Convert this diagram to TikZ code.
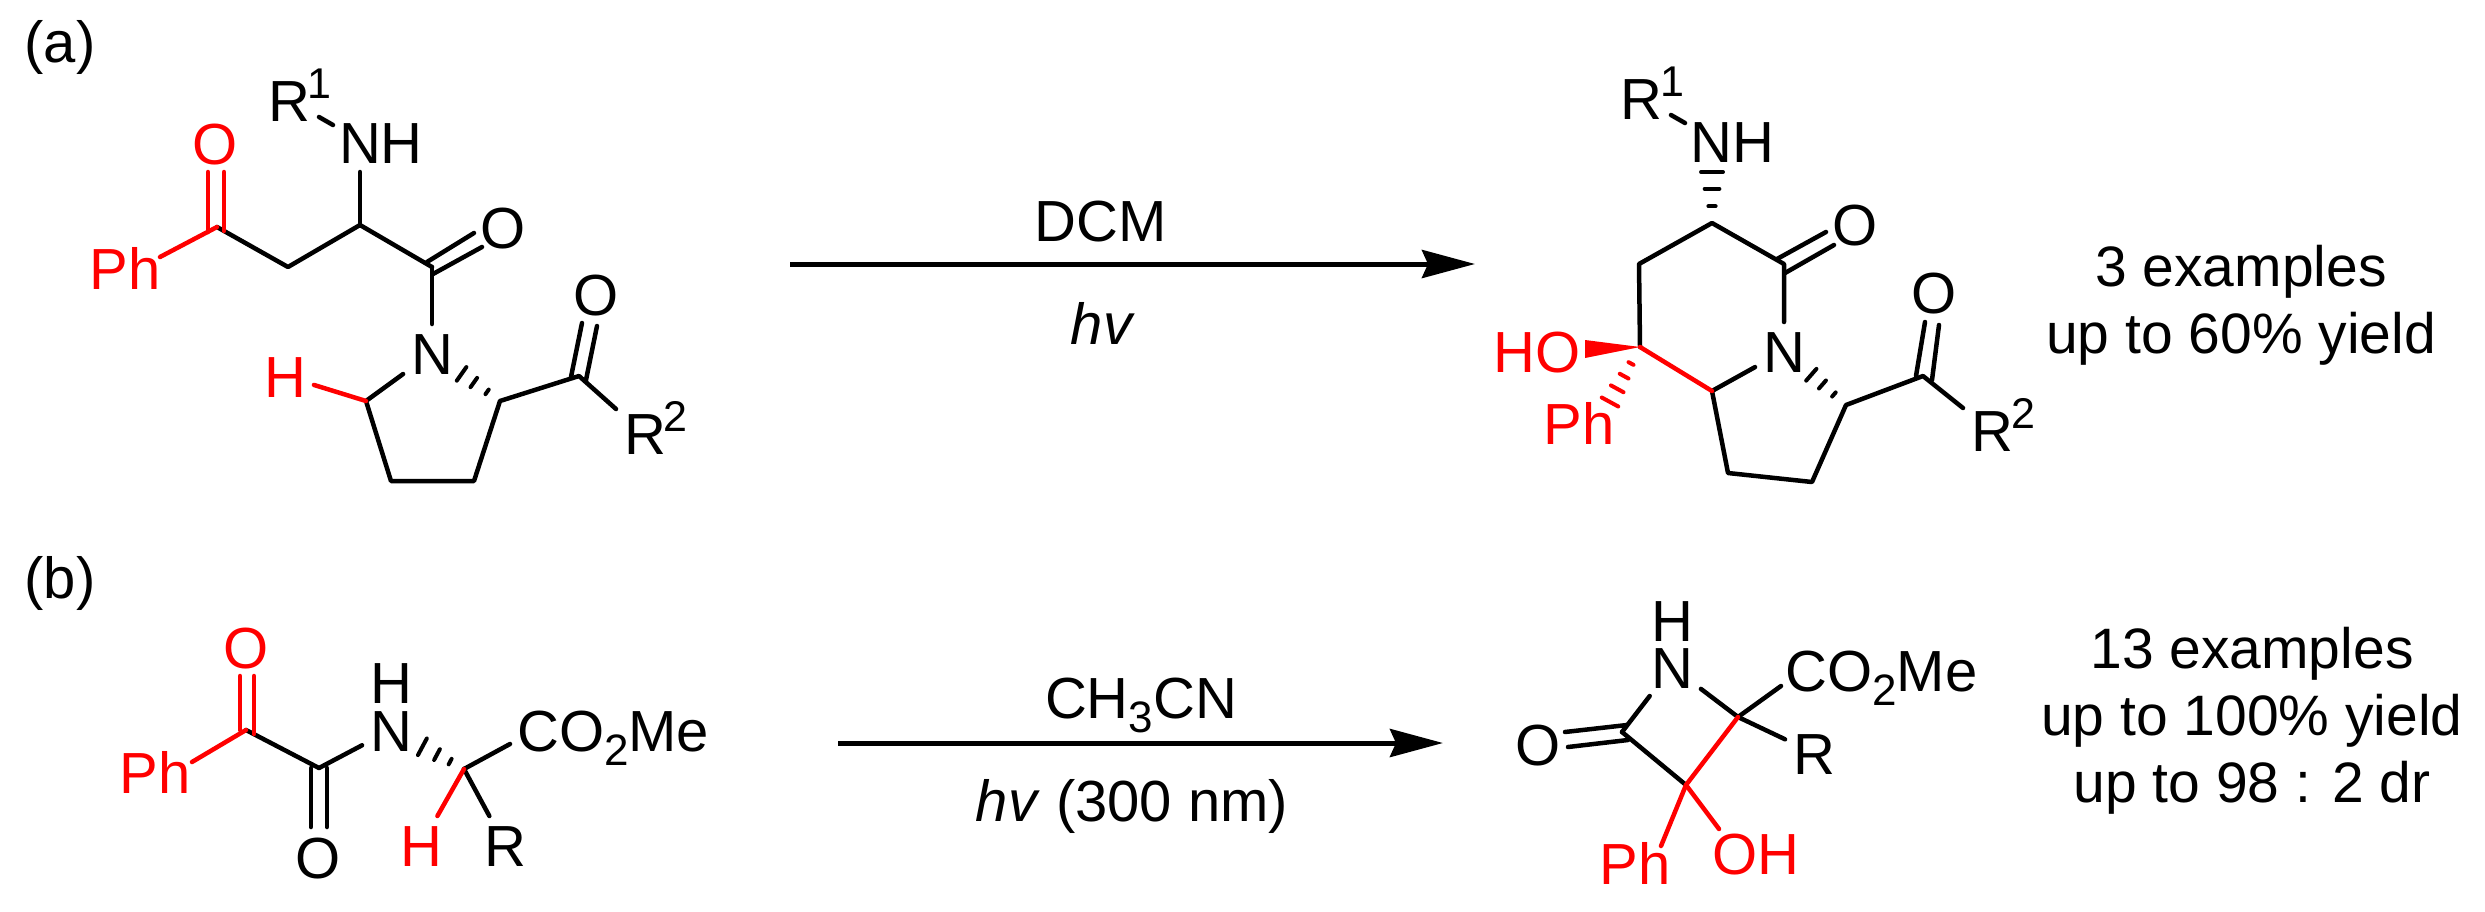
\documentclass[tikz,border=0pt]{standalone}
\usepackage{fontspec}
\setmainfont{Liberation Sans}
\usetikzlibrary{arrows.meta}
\usetikzlibrary{calc}
\tikzstyle{Atom}=[inner sep=0pt, outer sep=8pt, anchor=base, text height=42pt, text depth=0pt, font=\fontsize{58}{60}\selectfont]
\tikzstyle{RedAtom}=[Atom, text=red]
\tikzstyle{Caption}=[inner sep=0pt, anchor=base, font=\fontsize{58}{60}\selectfont]
\tikzstyle{Info}=[Caption, align=center, font=\fontsize{57}{67}\selectfont]
\tikzstyle{Bond}=[line width=4.5pt, line cap=round, line join=round]
\tikzstyle{RedBond}=[Bond, red]
\tikzstyle{HashDash}=[line width=4pt, line cap=round]
\tikzstyle{RedHashDash}=[HashDash, red]
\tikzstyle{ArrowEdge}=[line width=5pt, -{Stealth[length=53pt, width=28pt, inset=6pt]}]
\newcommand{\SupNum}[1]{\kern-2pt\raisebox{23pt}{\fontsize{43}{44}\selectfont #1}}
\newcommand{\SubNum}[1]{\raisebox{-14pt}{\fontsize{44}{44}\selectfont #1}}
\newcommand{\HashEdge}[5]{\foreach \f in {#4}{\draw[#1] ($(#2)!\f!(#3) + (#2)!\f*#5!90:(#3) - (#2)$) -- ($(#2)!\f!(#3) - (#2)!\f*#5!90:(#3) + (#2)$);}}

\begin{document}
\begin{tikzpicture}[x=1pt, y=-1pt]
\useasboundingbox (0,0) rectangle (2485,911);

\node[Caption](TagA) at (60,62) {(a)};
\node[Caption](TagB) at (60,598) {(b)};

\coordinate (aC1) at (217,227);
\coordinate (aC2) at (288,267);
\coordinate (aC3) at (360,225);
\coordinate (aC4) at (432,267);
\coordinate (aC5) at (366,401);
\coordinate (aC6) at (391,481);
\coordinate (aC7) at (474,481);
\coordinate (aC8) at (500,401);
\coordinate (aC9) at (579,376);
\coordinate (aPhEnd) at (160,257);
\coordinate (aNHEnd) at (360,172);
\coordinate (aRaEnd) at (319,117);
\coordinate (aRbEnd) at (333,125);
\coordinate (aRcEnd) at (616,409);
\coordinate (aOaL) at (208,232);
\coordinate (aOaM) at (208,172);
\coordinate (aObL) at (224,231);
\coordinate (aObM) at (224,172);
\coordinate (aOcL) at (427,262);
\coordinate (aOcM) at (474,233);
\coordinate (aOdL) at (433,274);
\coordinate (aOdM) at (482,247);
\coordinate (aOeL) at (571,377);
\coordinate (aOeM) at (582,323);
\coordinate (aOfL) at (586,380);
\coordinate (aOfM) at (597,326);
\node[RedAtom](aPh) at (125,289) {Ph};
\node[RedAtom](aO1) at (215,164) {O};
\node[Atom](aNH) at (381,163) {NH};
\node[Atom](aR1) at (300,121) {R\SupNum{1}};
\node[Atom](aO2) at (503,248) {O};
\node[Atom](aN) at (432,374) {N};
\node[Atom](aO3) at (596,315) {O};
\node[Atom](aR2) at (656,454) {R\SupNum{2}};
\node[RedAtom](aH) at (285,397) {H};

\draw[Bond](aC1) -- (aC2) -- (aC3) -- (aC4);
\draw[Bond](aC3) -- (aNHEnd);
\draw[Bond](aRaEnd) -- (aRbEnd);
\draw[Bond](aC4) -- (aN);
\draw[Bond](aN) -- (aC5) -- (aC6) -- (aC7) -- (aC8) -- (aC9) -- (aRcEnd);
\draw[Bond](aOcL) -- (aOcM);
\draw[Bond](aOdL) -- (aOdM);
\draw[Bond](aOeL) -- (aOeM);
\draw[Bond](aOfL) -- (aOfM);
\HashEdge{HashDash}{aC8}{aN}{.19,.385,.565}{.177}
\draw[RedBond](aPhEnd) -- (aC1);
\draw[RedBond](aOaL) -- (aOaM);
\draw[RedBond](aObL) -- (aObM);
\draw[RedBond](aH) -- (aC5);

\coordinate (ArrowA) at (790,264);
\coordinate (ArrowAEnd) at (1475,264);
\draw[ArrowEdge](ArrowA) -- (ArrowAEnd);
\node[Caption](DCM) at (1101,241) {DCM};
\node[Caption](LightA) at (1103,344) {\textit{hv}};

\coordinate (pC1) at (1712,223);
\coordinate (pC2) at (1639,264);
\coordinate (pC3) at (1640,347);
\coordinate (pC4) at (1712,391);
\coordinate (pC5) at (1728,473);
\coordinate (pC6) at (1812,482);
\coordinate (pC7) at (1846,405);
\coordinate (pC8) at (1923,376);
\coordinate (pC9) at (1784,264);
\coordinate (pNHEnd) at (1712,172);
\coordinate (pPhEnd) at (1610,402);
\coordinate (pRaEnd) at (1671,115);
\coordinate (pRbEnd) at (1685,123);
\coordinate (pRcEnd) at (1963,408);
\coordinate (pWedgeA) at (1585,340);
\coordinate (pWedgeB) at (1585,358);
\coordinate (pOaL) at (1777,259);
\coordinate (pOaM) at (1826,232);
\coordinate (pObL) at (1785,273);
\coordinate (pObM) at (1834,245);
\coordinate (pOcL) at (1916,376);
\coordinate (pOcM) at (1925,322);
\coordinate (pOdL) at (1932,380);
\coordinate (pOdM) at (1939,325);
\node[Atom](pNH) at (1732,162) {NH};
\node[Atom](pR1) at (1652,119) {R\SupNum{1}};
\node[Atom](pO1) at (1855,245) {O};
\node[Atom](pN) at (1784,372) {N};
\node[Atom](pO2) at (1934,313) {O};
\node[Atom](pR2) at (2003,451) {R\SupNum{2}};
\node[RedAtom](pHO) at (1537,372) {HO};
\node[RedAtom](pPh) at (1579,444) {Ph};

\draw[Bond](pC3) -- (pC2) -- (pC1) -- (pC9) -- (pN);
\draw[Bond](pRaEnd) -- (pRbEnd);
\draw[Bond](pC4) -- (pN);
\draw[Bond](pC4) -- (pC5) -- (pC6) -- (pC7) -- (pC8) -- (pRcEnd);
\draw[Bond](pOaL) -- (pOaM);
\draw[Bond](pObL) -- (pObM);
\draw[Bond](pOcL) -- (pOcM);
\draw[Bond](pOdL) -- (pOdM);
\HashEdge{HashDash}{pC1}{pNHEnd}{.33,.67,1}{.215}
\HashEdge{HashDash}{pC7}{pN}{.195,.38,.56}{.17}
\draw[RedBond](pC3) -- (pC4);
\fill[red](pC3) -- (pWedgeA) -- (pWedgeB) -- cycle;
\HashEdge{RedHashDash}{pC3}{pPhEnd}{.3,.53,.76,1}{.15}

\node[Info](InfoA) at (2241,353) {3 examples\\up to 60\% yield};

\coordinate (bC1) at (246,730);
\coordinate (bC2) at (319,768);
\coordinate (bC3) at (464,769);
\coordinate (bPhEnd) at (192,762);
\coordinate (bCOEnd) at (510,744);
\coordinate (bOaL) at (240,730);
\coordinate (bOaM) at (240,676);
\coordinate (bObL) at (254,734);
\coordinate (bObM) at (254,676);
\coordinate (bOcL) at (311,768);
\coordinate (bOcM) at (311,827);
\coordinate (bOdL) at (327,768);
\coordinate (bOdM) at (327,827);
\node[Caption](bH0) at (391,703) {H};
\node[RedAtom](bPh) at (155,793) {Ph};
\node[RedAtom](bO1) at (246,668) {O};
\node[Atom](bO2) at (318,878) {O};
\node[Atom](bN) at (391,751) {N};
\node[Caption, anchor=base west](bCO) at (517,751) {CO\SubNum{2}Me};
\node[RedAtom](bH) at (421,866) {H};
\node[Atom](bR) at (505,866) {R};

\draw[Bond](bC1) -- (bC2) -- (bN);
\draw[Bond](bC3) -- (bCOEnd);
\draw[Bond](bC3) -- (bR);
\draw[Bond](bOcL) -- (bOcM);
\draw[Bond](bOdL) -- (bOdM);
\HashEdge{HashDash}{bC3}{bN}{.19,.37,.57}{.2}
\draw[RedBond](bPhEnd) -- (bC1);
\draw[RedBond](bOaL) -- (bOaM);
\draw[RedBond](bObL) -- (bObM);
\draw[RedBond](bC3) -- (bH);

\coordinate (ArrowB) at (838,743);
\coordinate (ArrowBEnd) at (1443,743);
\draw[ArrowEdge](ArrowB) -- (ArrowBEnd);
\node[Caption](Solvent) at (1141,718) {CH\SubNum{3}CN};
\node[Caption](LightB) at (1132,821) {\textit{hv} (300 nm)};

\coordinate (qC1) at (1622,732);
\coordinate (qC2) at (1738,717);
\coordinate (qC3) at (1686,785);
\coordinate (qCOEnd) at (1781,686);
\coordinate (qPhEnd) at (1661,846);
\coordinate (qOHEnd) at (1719,829);
\coordinate (qOaL) at (1565,732);
\coordinate (qOaM) at (1627,725);
\coordinate (qObL) at (1568,747);
\coordinate (qObM) at (1628,740);
\node[Caption](qH0) at (1672,641) {H};
\node[Atom](qN) at (1672,688) {N};
\node[Caption, anchor=base west](qCO) at (1785,691) {CO\SubNum{2}Me};
\node[Atom](qR) at (1814,774) {R};
\node[Atom](qO) at (1538,765) {O};
\node[RedAtom](qPh) at (1635,884) {Ph};
\node[RedAtom](qOH) at (1756,874) {OH};

\draw[Bond](qC1) -- (qN) -- (qC2);
\draw[Bond](qC2) -- (qCOEnd);
\draw[Bond](qC2) -- (qR);
\draw[Bond](qC1) -- (qC3);
\draw[Bond](qOaL) -- (qOaM);
\draw[Bond](qObL) -- (qObM);
\draw[RedBond](qC3) -- (qC2);
\draw[RedBond](qC3) -- (qPhEnd);
\draw[RedBond](qC3) -- (qOHEnd);

\node[Info](InfoB) at (2252,802) {13 examples\\up to 100\% yield\\up to 98 : 2 dr};
\end{tikzpicture}
\end{document}
